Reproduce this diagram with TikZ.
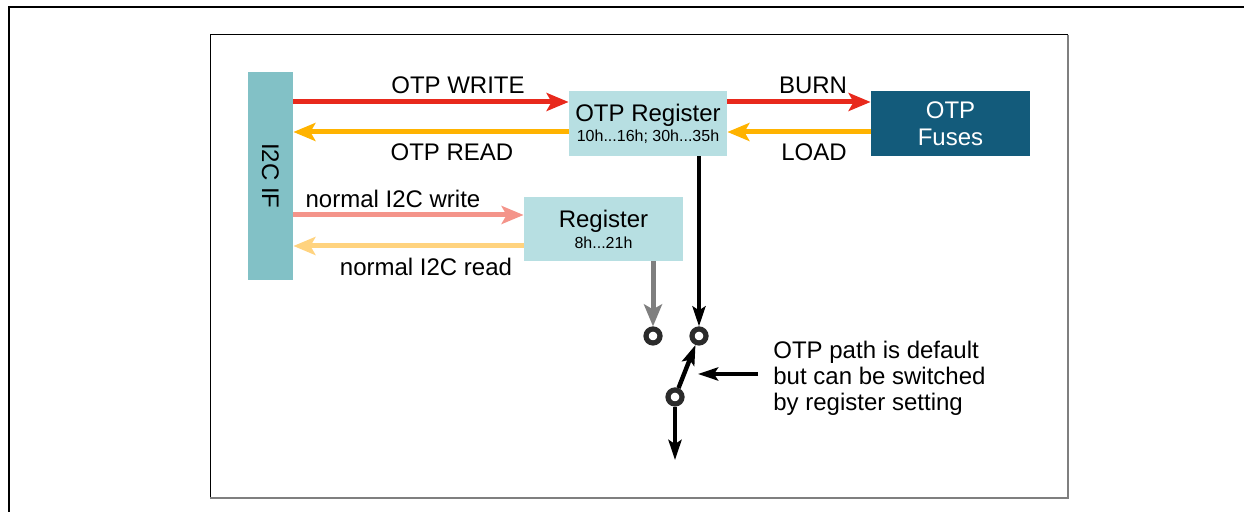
\documentclass[tikz,border=0pt]{standalone}
\usepackage{graphicx}
\usepackage{fontspec}
\setmainfont{Liberation Sans}
\usetikzlibrary{arrows.meta,positioning}
\definecolor{otpred}{HTML}{E8291C}
\definecolor{otporange}{HTML}{FFB300}
\definecolor{i2cred}{HTML}{F4948A}
\definecolor{i2corange}{HTML}{FFD37F}
\definecolor{i2cfill}{HTML}{82C1C6}
\definecolor{regfill}{HTML}{B7DFE2}
\definecolor{fusefill}{HTML}{135B7B}
\definecolor{pinring}{HTML}{2B2B2B}
\definecolor{framegray}{HTML}{7F7F7F}
\tikzset{
	box/.style={inner sep=0pt, align=center, font=\fontsize{12}{14.4}\selectfont},
	lbl/.style={inner sep=0pt, font=\fontsize{12}{14.4}\selectfont},
	flow/.style={line width=2.5pt, -{Stealth[length=11pt,width=9pt,inset=2.5pt]}},
	blk/.style={line width=2.2pt, black, -{Stealth[length=10pt,width=6.5pt,inset=2pt]}},
	pin/.style={circle, draw=pinring, fill=white, line width=2.6pt, minimum size=7pt, inner sep=0pt}
}

\begin{document}
\begin{tikzpicture}[x=0.5pt, y=-0.5pt]
			%%%%% START %%%%%
			\useasboundingbox (0,0) rectangle (1244,512);
			
			\draw[line width=1pt] (9,512) -- (9,7) -- (1244,7);
			\draw[line width=0.5pt] (1068,35) -- (210,35) -- (210,498);
			\draw[line width=1pt, framegray] (210,498) -- (1068,498) -- (1068,35);
			
			\node[box, fill=i2cfill, minimum width=22.5pt, minimum height=104pt] (i2c) at (270.5,176) {\rotatebox{-90}{I2C IF}};
			\node[box, fill=regfill, minimum width=79pt, minimum height=32.5pt] (otpreg) at (648,123.5) {OTP Register\\[-4.4pt]{\fontsize{8}{9}\selectfont 10h...16h; 30h...35h}};
			\node[box, fill=fusefill, text=white, minimum width=79.5pt, minimum height=32.5pt] (fuses) at (950.5,123.5) {OTP\\[-0.9pt]Fuses};
			\node[box, fill=regfill, minimum width=79.5pt, minimum height=32pt] (reg) at (603.5,229) {Register\\[-4pt]{\fontsize{8}{9}\selectfont 8h...21h}};
			
			\node[lbl] (lwr) at (458,85) {OTP WRITE};
			\node[lbl] (lrd) at (452,152) {OTP READ};
			\node[lbl] (lburn) at (813,85) {BURN};
			\node[lbl] (lload) at (814,152) {LOAD};
			\node[lbl] (lnwr) at (393,199) {normal I2C write};
			\node[lbl] (lnrd) at (426,267) {normal I2C read};
			
			\coordinate (wrE) at ([yshift=10.75pt]otpreg.west);
			\coordinate (rdE) at ([yshift=-4.25pt]otpreg.west);
			\draw[flow, otpred] (i2c.east |- wrE) -- (wrE);
			\draw[flow, otporange] (rdE) -- (i2c.east |- rdE);
			\draw[flow, otpred] ([yshift=10.75pt]otpreg.east) -- ([yshift=10.75pt]fuses.west);
			\draw[flow, otporange] ([yshift=-4.25pt]fuses.west) -- ([yshift=-4.25pt]otpreg.east);
			
			\coordinate (nwrE) at ([yshift=7pt]reg.west);
			\coordinate (nrdE) at ([yshift=-8.5pt]reg.west);
			\draw[flow, i2cred] (i2c.east |- nwrE) -- (nwrE);
			\draw[flow, i2corange] (nrdE) -- (i2c.east |- nrdE);
			
			% switch
			\node[pin] (c1) at (653,336) {};
			\node[pin] (c2) at (699,336) {};
			\node[pin] (c3) at (675,397) {};
			\coordinate (out) at (675,460);
			\coordinate (lever) at (698,374);
			
			\draw[flow, framegray] (reg.south -| c1) -- (c1);
			\draw[blk] (otpreg.south -| c2) -- (c2);
			\draw[blk] (c3) -- (c2);
			\draw[blk] (c3) -- (out);
			
			\node[lbl, anchor=west, align=left, font=\fontsize{12}{13}\selectfont] (note) at (773,378) {OTP path is default\\but can be switched\\by register setting};
			\draw[blk, shorten <=7.5pt] (note.west |- lever) -- (lever);
			%%%%% END %%%%%
\end{tikzpicture}
\end{document}
